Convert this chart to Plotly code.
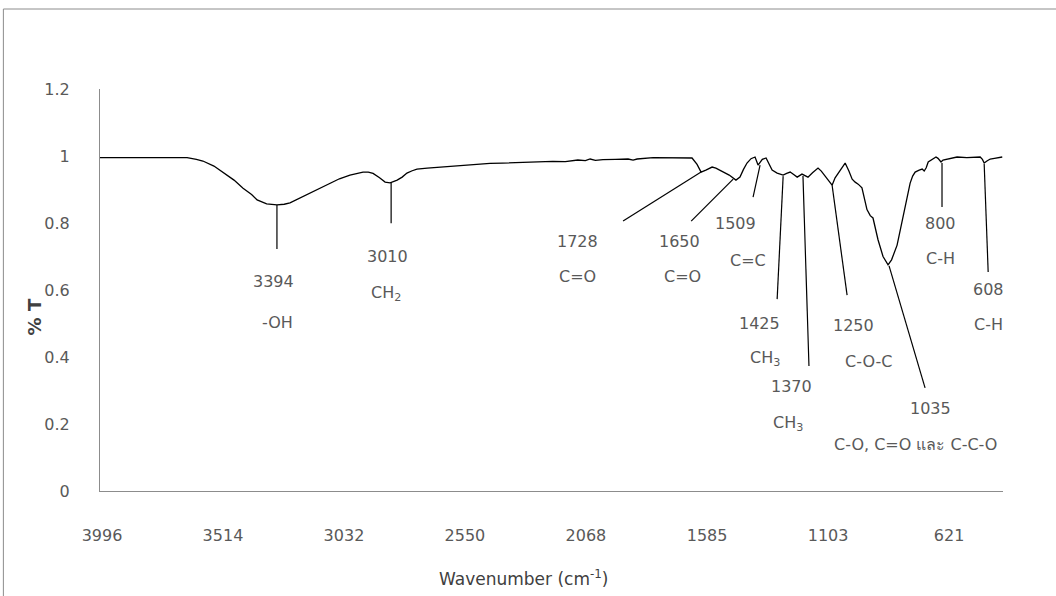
import plotly.graph_objects as go

# ---------------- data ----------------
wavenumber = [4004, 3900, 3800, 3700, 3657, 3620, 3594, 3550, 3514, 3470, 3434, 3400, 3378, 3340,
              3299, 3270, 3247, 3200, 3167, 3127, 3087, 3050, 3008, 2980, 2956, 2935, 2916, 2890,
              2868, 2848, 2820, 2800, 2781, 2760, 2741, 2700, 2649, 2600, 2550, 2500, 2450, 2400,
              2350, 2300, 2251, 2200, 2150, 2131, 2100, 2070, 2051, 2030, 2000, 1950, 1900, 1880,
              1864, 1800, 1750, 1700, 1660, 1645, 1625, 1609, 1590, 1565, 1550, 1533, 1515, 1497,
              1470, 1454, 1440, 1426, 1410, 1394, 1382, 1365, 1350, 1338, 1326, 1306, 1282, 1268,
              1254, 1240, 1226, 1207, 1183, 1165, 1143, 1130, 1115, 1100, 1087, 1075, 1063, 1050,
              1035, 1020, 1007, 995, 983, 968, 948, 935, 924, 904, 884, 864, 850, 828, 815, 804,
              790, 776, 766, 756, 740, 728, 720, 712, 704, 690, 673, 665, 653, 645, 629, 610, 589,
              550, 520, 497, 488, 481, 470, 457, 440, 420, 409]
transmittance = [0.995, 0.995, 0.995, 0.995, 0.995, 0.990, 0.985, 0.970, 0.952, 0.928, 0.904, 0.885,
                 0.869, 0.857, 0.854, 0.856, 0.860, 0.877, 0.890, 0.905, 0.919, 0.932, 0.943, 0.949,
                 0.952, 0.952, 0.948, 0.935, 0.922, 0.920, 0.928, 0.937, 0.949, 0.956, 0.961, 0.964,
                 0.967, 0.970, 0.974, 0.975, 0.978, 0.979, 0.980, 0.983, 0.982, 0.984, 0.983, 0.985,
                 0.988, 0.986, 0.991, 0.987, 0.989, 0.990, 0.991, 0.988, 0.991, 0.995, 0.995, 0.995,
                 0.995, 0.994, 0.975, 0.952, 0.958, 0.967, 0.964, 0.958, 0.950, 0.943, 0.928, 0.937,
                 0.960, 0.979, 0.992, 0.997, 0.973, 0.990, 0.994, 0.975, 0.958, 0.949, 0.943, 0.948,
                 0.952, 0.945, 0.937, 0.946, 0.937, 0.950, 0.964, 0.955, 0.940, 0.925, 0.913, 0.935,
                 0.949, 0.965, 0.979, 0.955, 0.931, 0.922, 0.916, 0.905, 0.840, 0.822, 0.815, 0.750,
                 0.700, 0.675, 0.690, 0.734, 0.780, 0.818, 0.870, 0.919, 0.940, 0.952, 0.958, 0.961,
                 0.955, 0.965, 0.982, 0.990, 0.997, 0.993, 0.982, 0.988, 0.991, 0.993, 0.997, 0.995,
                 0.997, 0.997, 0.990, 0.979, 0.985, 0.991, 0.993, 0.995, 0.997]

x_tick_labels = ["3996", "3514", "3032", "2550", "2068", "1585", "1103", "621"]
x_tick_values = [3996, 3514, 3032, 2550, 2068, 1585, 1103, 621]
y_tick_values = [0, 0.2, 0.4, 0.6, 0.8, 1.0, 1.2]

peak_numbers = ["3394", "3010", "1728", "1650", "1509", "1425", "1370", "1250", "1035", "800", "608"]
peak_groups = ["-OH", "CH<sub>2</sub>", "C=O", "C=O", "C=C", "CH<sub>3</sub>", "CH<sub>3</sub>",
               "C-O-C", "C-O, C=O และ C-C-O", "C-H", "C-H"]
peak_wavenumber = [3299, 2844, 1609, 1481, 1374, 1282, 1203, 1087, 860, 649, 481]
peak_transmittance = [0.854, 0.922, 0.952, 0.931, 0.973, 0.940, 0.940, 0.913, 0.672, 0.979, 0.976]

# ---------------- label layout (pixel offsets from each peak) ----------------
# leader line end (dx, dy down), number label (dx, dy), group label (dx, dy)
leader_end = [(0, 44), (0, 41), (-78, 49), (-42, 42), (-7, 32), (-6, 123), (6, 190),
              (15, 110), (36, 122), (0, 44), (4, 108)]
number_off = [(-3, 77), (-4, 74), (-124, 69), (-54, 62), (-25, 58), (-24, 147), (-11, 210),
              (21, 140), (41, 143), (-2, 60), (4, 125)]
group_off = [(1, 118), (-5, 111), (-124, 104), (-51, 97), (-12, 95), (-18, 182), (-15, 247),
             (36, 176), (26, 179), (-2, 95), (4, 160)]

FONT = "'DejaVu Sans', 'Noto Sans', sans-serif"
TXT = "#595959"

fig = go.Figure()
fig.add_trace(go.Scatter(x=wavenumber, y=transmittance, mode="lines",
                         line=dict(color="#000000", width=1.3), hoverinfo="skip",
                         showlegend=False))

shapes = []
annotations = []
for i in range(len(peak_numbers)):
    dx, dy = leader_end[i]
    shapes.append(dict(type="line", xref="x", yref="y", xsizemode="pixel", ysizemode="pixel",
                       xanchor=peak_wavenumber[i], yanchor=peak_transmittance[i],
                       x0=0, y0=0, x1=dx, y1=-dy,
                       line=dict(color="#000000", width=1.2)))
    nx, ny = number_off[i]
    gx, gy = group_off[i]
    annotations.append(dict(x=peak_wavenumber[i], y=peak_transmittance[i], xref="x", yref="y",
                            text=peak_numbers[i], showarrow=False, xshift=nx, yshift=-ny,
                            xanchor="center", yanchor="middle",
                            font=dict(family=FONT, size=16, color=TXT)))
    annotations.append(dict(x=peak_wavenumber[i], y=peak_transmittance[i], xref="x", yref="y",
                            text=peak_groups[i], showarrow=False, xshift=gx, yshift=-gy,
                            xanchor="center", yanchor="middle",
                            font=dict(family=FONT, size=16, color=TXT)))

# outer chart frame
shapes.append(dict(type="rect", xref="paper", yref="paper", x0=-0.107, x1=1.1, y0=-0.4, y1=1.199,
                   line=dict(color="#8c8c8c", width=1), fillcolor="rgba(0,0,0,0)", layer="below"))

# axis titles
annotations.append(dict(x=0.469, y=-0.217, xref="paper", yref="paper",
                        text="Wavenumber (cm<sup>-1</sup>)", showarrow=False,
                        xanchor="center", yanchor="middle",
                        font=dict(family=FONT, size=17, color="#404040")))
annotations.append(dict(x=-0.073, y=0.432, xref="paper", yref="paper", text="<b>% T</b>",
                        showarrow=False, textangle=-90, xanchor="center", yanchor="middle",
                        font=dict(family=FONT, size=18, color="#404040")))

fig.update_layout(
    width=1056, height=596,
    margin=dict(l=100, r=53, t=89, b=105),
    paper_bgcolor="white", plot_bgcolor="white",
    shapes=shapes, annotations=annotations,
    xaxis=dict(range=[4004, 406], tickvals=x_tick_values, ticktext=x_tick_labels,
               showgrid=False, zeroline=False, showline=True, linecolor="#8c8c8c",
               linewidth=1, ticks="", ticklabelstandoff=30,
               tickfont=dict(family=FONT, size=16, color=TXT)),
    yaxis=dict(range=[0, 1.2], tickvals=y_tick_values, showgrid=False, zeroline=False,
               showline=True, linecolor="#8c8c8c", linewidth=1, ticks="",
               ticklabelstandoff=26, tickfont=dict(family=FONT, size=16, color=TXT)),
)

fig.write_html("out.html")
